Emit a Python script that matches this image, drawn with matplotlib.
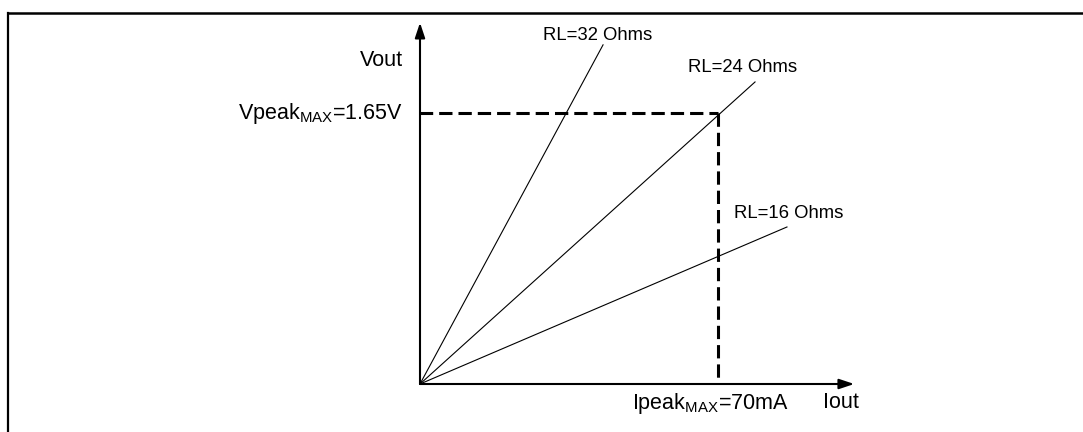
import matplotlib
matplotlib.use("Agg")
import matplotlib.pyplot as plt
from matplotlib.lines import Line2D

plt.rcParams['font.family'] = ['Liberation Sans', 'DejaVu Sans']
plt.rcParams['mathtext.fontset'] = 'custom'
plt.rcParams['mathtext.rm'] = 'Liberation Sans'
plt.rcParams['mathtext.it'] = 'Liberation Sans'

# ---- data (schematic, in mA / V) ----
ipeak_max = 70.0
vpeak_max = 1.65
load_labels = ["RL=32 Ohms", "RL=24 Ohms", "RL=16 Ohms"]
line_end_i = [43.0, 78.7, 86.2]
line_end_v = [2.065, 1.839, 0.956]
label_i = [41.8, 75.8, 86.6]
label_v = [2.119, 1.924, 1.041]
axis_end_i = 102.0
axis_end_v = 2.20

W, H = 1083, 432
fig = plt.figure(figsize=(W / 100, H / 100), dpi=100)
ax = fig.add_axes([0, 0, 1, 1])
ax.set_axis_off()

# pixel mapping for scale
ox, oy = 420.0, 384.0
ppx = (718.0 - ox) / ipeak_max
ppy = (oy - 113.0) / vpeak_max
ax.set_xlim(-ox / ppx, (W - ox) / ppx)
ax.set_ylim((oy - H) / ppy, oy / ppy)

# border (top and left)
fig.add_artist(Line2D([8 / W, 1.0], [1 - 12.5 / H, 1 - 12.5 / H], color='black', lw=1.8,
                      transform=fig.transFigure, solid_capstyle='projecting'))
fig.add_artist(Line2D([8 / W, 8 / W], [0, 1 - 12.5 / H], color='black', lw=1.6,
                      transform=fig.transFigure))

# axes arrows
arrowprops = dict(arrowstyle='-|>,head_length=0.9,head_width=0.3', color='black', lw=1.5,
                  shrinkA=0, shrinkB=0)
ax.annotate('', xy=(0, axis_end_v), xytext=(0, 0), arrowprops=arrowprops)
ax.annotate('', xy=(axis_end_i, 0), xytext=(0, 0), arrowprops=arrowprops)

# load lines
for xe, ye in zip(line_end_i, line_end_v):
    ax.plot([0, xe], [0, ye], color='black', lw=0.8)

# dashed limits
lw_d = 2.2
dash = (13.3 * 0.72 / lw_d, 6.0 * 0.72 / lw_d)
ax.plot([0, ipeak_max], [vpeak_max, vpeak_max], color='black', lw=lw_d,
        linestyle=(0.2, dash), dash_capstyle='butt')
ax.plot([ipeak_max, ipeak_max], [vpeak_max, 0], color='black', lw=lw_d,
        linestyle=(0, dash), dash_capstyle='butt')

# labels
for t, xl, yl in zip(load_labels, label_i, label_v):
    ax.text(xl, yl, t, fontsize=13.3, ha='center', va='center')

ax.text(-17.0 / ppx, (oy - 60) / ppy, 'Vout', fontsize=15.5, ha='right', va='center')
ax.text(-17.0 / ppx, vpeak_max, r'Vpeak$_{\mathrm{MAX}}$=1.65V', fontsize=15.5,
        ha='right', va='center')
ax.text((632 - ox) / ppx, (oy - 403) / ppy, r'Ipeak$_{\mathrm{MAX}}$=70mA', fontsize=15.5,
        ha='left', va='center')
ax.text((840.5 - ox) / ppx, (oy - 403) / ppy, 'Iout', fontsize=15.5, ha='center', va='center')

fig.savefig('out.png', dpi=100)
